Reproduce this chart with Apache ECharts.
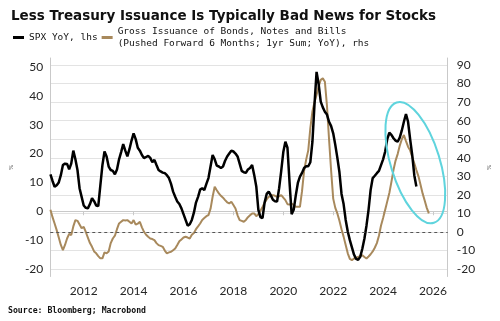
<!DOCTYPE html>
<html>
<head>
<meta charset="utf-8">
<script src="https://cdn.jsdelivr.net/npm/echarts@6.0.0/dist/echarts.min.js"></script>
<style>
  html, body { margin: 0; padding: 0; background: #fff; }
  #chart { width: 500px; height: 321px; }
</style>
</head>
<body>
<div id="chart"></div>
<script>
// Monthly observations; the first value of each series is September 2010.
const startYear = 2010;
const startMonth = 9;

// S&P 500 year-over-year change, % (left axis)
const spxYoY = [
  12.8, 10.5, 8.5, 9.0, 10.0, 12.5, 16.0, 16.5, 16.4, 14.5,
  16.5, 21.0, 18.0, 14.3, 8.0, 5.0, 2.0, 1.2, 1.0, 2.5,
  4.5, 3.5, 2.0, 1.8, 9.0, 16.0, 20.7, 19.0, 15.5, 14.3,
  14.0, 12.8, 14.5, 18.0, 20.5, 23.3, 21.0, 19.0, 21.5, 24.5,
  27.0, 25.0, 22.0, 21.0, 19.5, 18.4, 18.8, 19.2, 18.5, 17.0,
  17.8, 16.0, 14.3, 13.8, 13.4, 13.2, 12.5, 11.5, 9.5, 6.8,
  5.0, 3.4, 2.5, 1.0, -1.0, -3.0, -5.0, -4.5, -3.0, -0.5,
  3.0, 5.0, 7.5, 8.0, 7.3, 9.5, 11.5, 15.5, 19.5, 18.0,
  15.8, 15.5, 15.0, 15.5, 17.5, 19.0, 20.0, 21.0, 20.7, 20.0,
  19.0, 16.5, 14.0, 13.5, 13.3, 14.5, 15.0, 16.0, 12.6, 8.6,
  0.5, -2.0, -2.4, 3.0, 6.0, 6.8, 5.5, 4.0, 3.5, 3.4,
  8.0, 14.0, 20.5, 24.1, 22.0, 10.0, -1.0, 0.5, 5.5, 9.8,
  12.0, 13.3, 15.0, 15.6, 15.6, 17.0, 24.0, 37.0, 48.3, 44.0,
  38.0, 36.0, 34.5, 33.5, 31.0, 29.5, 27.0, 23.0, 18.5, 13.5,
  6.0, 2.5, -3.0, -7.0, -10.0, -12.5, -15.0, -16.5, -16.8, -15.8,
  -13.0, -9.5, -5.0, 0.5, 7.4, 11.5, 12.3, 13.2, 14.0, 16.0,
  18.0, 20.7, 25.0, 27.2, 26.5, 25.3, 24.5, 24.1, 25.5, 28.0,
  31.0, 33.7, 31.0, 25.0, 19.5, 12.5, 8.6
];

// Gross issuance of bonds, notes and bills, pushed forward 6 months,
// 1yr sum, year-over-year change, % (right axis)
const issuanceYoY = [
  12.0, 8.0, 4.6, 1.0, -3.0, -7.0, -9.8, -7.0, -3.5, -1.0,
  -1.7, 3.0, 6.4, 6.0, 4.0, 2.0, 2.8, 0.0, -3.0, -6.0,
  -8.0, -10.5, -11.5, -13.0, -14.2, -14.2, -11.0, -11.5, -10.5, -6.0,
  -3.5, -2.0, 1.5, 4.6, 5.5, 6.4, 6.2, 6.4, 5.5, 4.6,
  6.4, 4.0, 4.5, 5.5, 2.5, 0.1, -1.5, -2.6, -3.5, -3.8,
  -4.4, -6.0, -7.1, -7.5, -8.0, -10.0, -11.5, -11.0, -10.7, -9.8,
  -8.9, -7.0, -5.0, -4.0, -3.0, -2.6, -3.0, -3.5, -1.5, -0.5,
  1.5, 3.0, 4.6, 6.5, 7.5, 8.5, 9.1, 12.5, 19.0, 24.4,
  22.5, 20.8, 19.5, 18.5, 17.2, 16.0, 15.4, 16.3, 14.5, 12.7,
  9.0, 6.4, 6.0, 5.5, 6.5, 8.0, 9.0, 10.0, 10.0, 8.5,
  9.5, 11.5, 13.5, 15.8, 17.5, 19.0, 19.5, 19.9, 19.5, 19.0,
  19.2, 19.9, 18.5, 17.2, 15.0, 14.8, 15.4, 14.5, 13.6, 13.6,
  13.6, 22.0, 33.0, 39.0, 44.0, 56.0, 65.0, 70.0, 74.0, 78.5,
  82.0, 82.8, 81.0, 68.0, 50.0, 33.0, 18.0, 13.0, 10.0, 6.0,
  1.5, -2.5, -7.0, -11.5, -14.5, -15.2, -14.3, -14.0, -13.4, -13.0,
  -12.5, -13.5, -14.3, -13.2, -12.0, -10.5, -8.5, -6.0, -2.0, 3.5,
  7.5, 12.0, 16.5, 21.0, 27.0, 33.5, 38.5, 42.0, 46.5, 50.0,
  52.3, 49.0, 46.0, 44.0, 40.5, 37.0, 33.4, 30.0, 25.5, 20.8,
  17.0, 13.0, 10.0
];

// Axis tick labels
const yearLabels = [2012, 2014, 2016, 2018, 2020, 2022, 2024, 2026];
const leftTicks = [-20, -10, 0, 10, 20, 30, 40, 50];
const rightTicks = [-20, -10, 0, 10, 20, 30, 40, 50, 60, 70, 80, 90];

const spxName = 'SPX YoY, lhs';
const issuanceName = 'Gross Issuance of Bonds, Notes and Bills\n(Pushed Forward 6 Months; 1yr Sum; YoY), rhs';

// Month index -> decimal year on the value-type x axis
function toPairs(values) {
  return values.map((v, i) => [startYear + (startMonth - 1 + i) / 12, v]);
}

function tickFormatter(list) {
  return v => {
    const r = Math.round(v);
    return (Math.abs(v - r) < 1e-6 && list.includes(r)) ? String(r) : '';
  };
}

const labelFont = { fontFamily: 'Lato', fontSize: 12, color: '#262626' };
const axisGrey = '#c9c9c9';

const sourceText = {
  type: 'text',
  left: 8,
  top: 307,
  style: {
    text: 'Source: Bloomberg; Macrobond',
    font: 'bold 8.2px "DejaVu Sans Mono"',
    fill: '#111'
  }
};

const chart = echarts.init(document.getElementById('chart'), null, { renderer: 'canvas' });

chart.setOption({
  animation: false,
  backgroundColor: '#ffffff',
  title: {
    text: 'Less Treasury Issuance Is Typically Bad News for Stocks',
    left: 6,
    top: 4,
    textStyle: { fontFamily: 'DejaVu Sans', fontWeight: 'bold', fontSize: 13.5, color: '#111' }
  },
  legend: {
    left: 8,
    top: 20.5,
    icon: 'rect',
    itemWidth: 11,
    itemHeight: 3,
    itemGap: 4,
    textStyle: { fontFamily: 'DejaVu Sans Mono', fontSize: 9.5, lineHeight: 12, color: '#111' },
    data: [spxName, issuanceName]
  },
  graphic: [sourceText],
  grid: { left: 47, right: 48, top: 58, bottom: 44.5 },
  xAxis: {
    type: 'value',
    min: 2010.66,
    max: 2026.59,
    minInterval: 2,
    maxInterval: 2,
    axisLine: { show: true, lineStyle: { color: axisGrey, width: 1 } },
    axisTick: { show: true, length: 4, lineStyle: { color: axisGrey } },
    splitLine: { show: false },
    axisLabel: {
      ...labelFont,
      margin: 9,
      showMinLabel: false,
      showMaxLabel: false,
      formatter: tickFormatter(yearLabels)
    }
  },
  yAxis: [
    {
      type: 'value',
      position: 'left',
      min: -22.6,
      max: 53.1,
      minInterval: 10,
      maxInterval: 10,
      name: '%',
      nameLocation: 'middle',
      nameGap: 36,
      nameRotate: 90,
      nameTextStyle: { fontSize: 6, color: '#444', fontFamily: 'Lato' },
      axisLine: { show: true, lineStyle: { color: axisGrey, width: 1 } },
      axisTick: { show: false },
      splitLine: { show: false },
      axisLabel: {
        ...labelFont,
        margin: 7,
        showMinLabel: false,
        showMaxLabel: false,
        formatter: tickFormatter(leftTicks)
      }
    },
    {
      type: 'value',
      position: 'right',
      min: -24,
      max: 93.8,
      minInterval: 10,
      maxInterval: 10,
      name: '%',
      nameLocation: 'middle',
      nameGap: 38,
      nameRotate: 90,
      nameTextStyle: { fontSize: 6, color: '#444', fontFamily: 'Lato' },
      axisLine: { show: true, lineStyle: { color: axisGrey, width: 1 } },
      axisTick: { show: false },
      splitLine: { show: true, showMinLine: false, showMaxLine: false, lineStyle: { color: '#e3e3e3', width: 1 } },
      axisLabel: {
        ...labelFont,
        margin: 9,
        showMinLabel: false,
        showMaxLabel: false,
        formatter: tickFormatter(rightTicks)
      }
    }
  ],
  series: [
    {
      name: issuanceName,
      type: 'line',
      yAxisIndex: 1,
      data: toPairs(issuanceYoY),
      showSymbol: false,
      symbol: 'none',
      lineStyle: { color: '#a8895c', width: 2 },
      itemStyle: { color: '#a8895c' },
      z: 2,
      markLine: {
        silent: true,
        symbol: 'none',
        label: { show: false },
        lineStyle: { color: '#555', type: [3, 3], width: 1 },
        data: [{ yAxis: 0 }]
      }
    },
    {
      name: spxName,
      type: 'line',
      yAxisIndex: 0,
      data: toPairs(spxYoY),
      showSymbol: false,
      symbol: 'none',
      lineStyle: { color: '#000000', width: 2.5 },
      itemStyle: { color: '#000000' },
      z: 3
    }
  ]
});

// Highlight ellipse around the latest divergence, centred in data coordinates
const ellipseCentre = chart.convertToPixel({ xAxisIndex: 0, yAxisIndex: 1 }, [2025.29, 37.4]);
chart.setOption({
  graphic: [
    sourceText,
    {
      type: 'ellipse',
      x: ellipseCentre[0],
      y: ellipseCentre[1],
      rotation: 0.30,
      shape: { cx: 0, cy: 0, rx: 24.5, ry: 63 },
      style: { fill: 'none', stroke: '#5fd4dd', lineWidth: 2 },
      z: 10
    }
  ]
});
</script>
</body>
</html>
